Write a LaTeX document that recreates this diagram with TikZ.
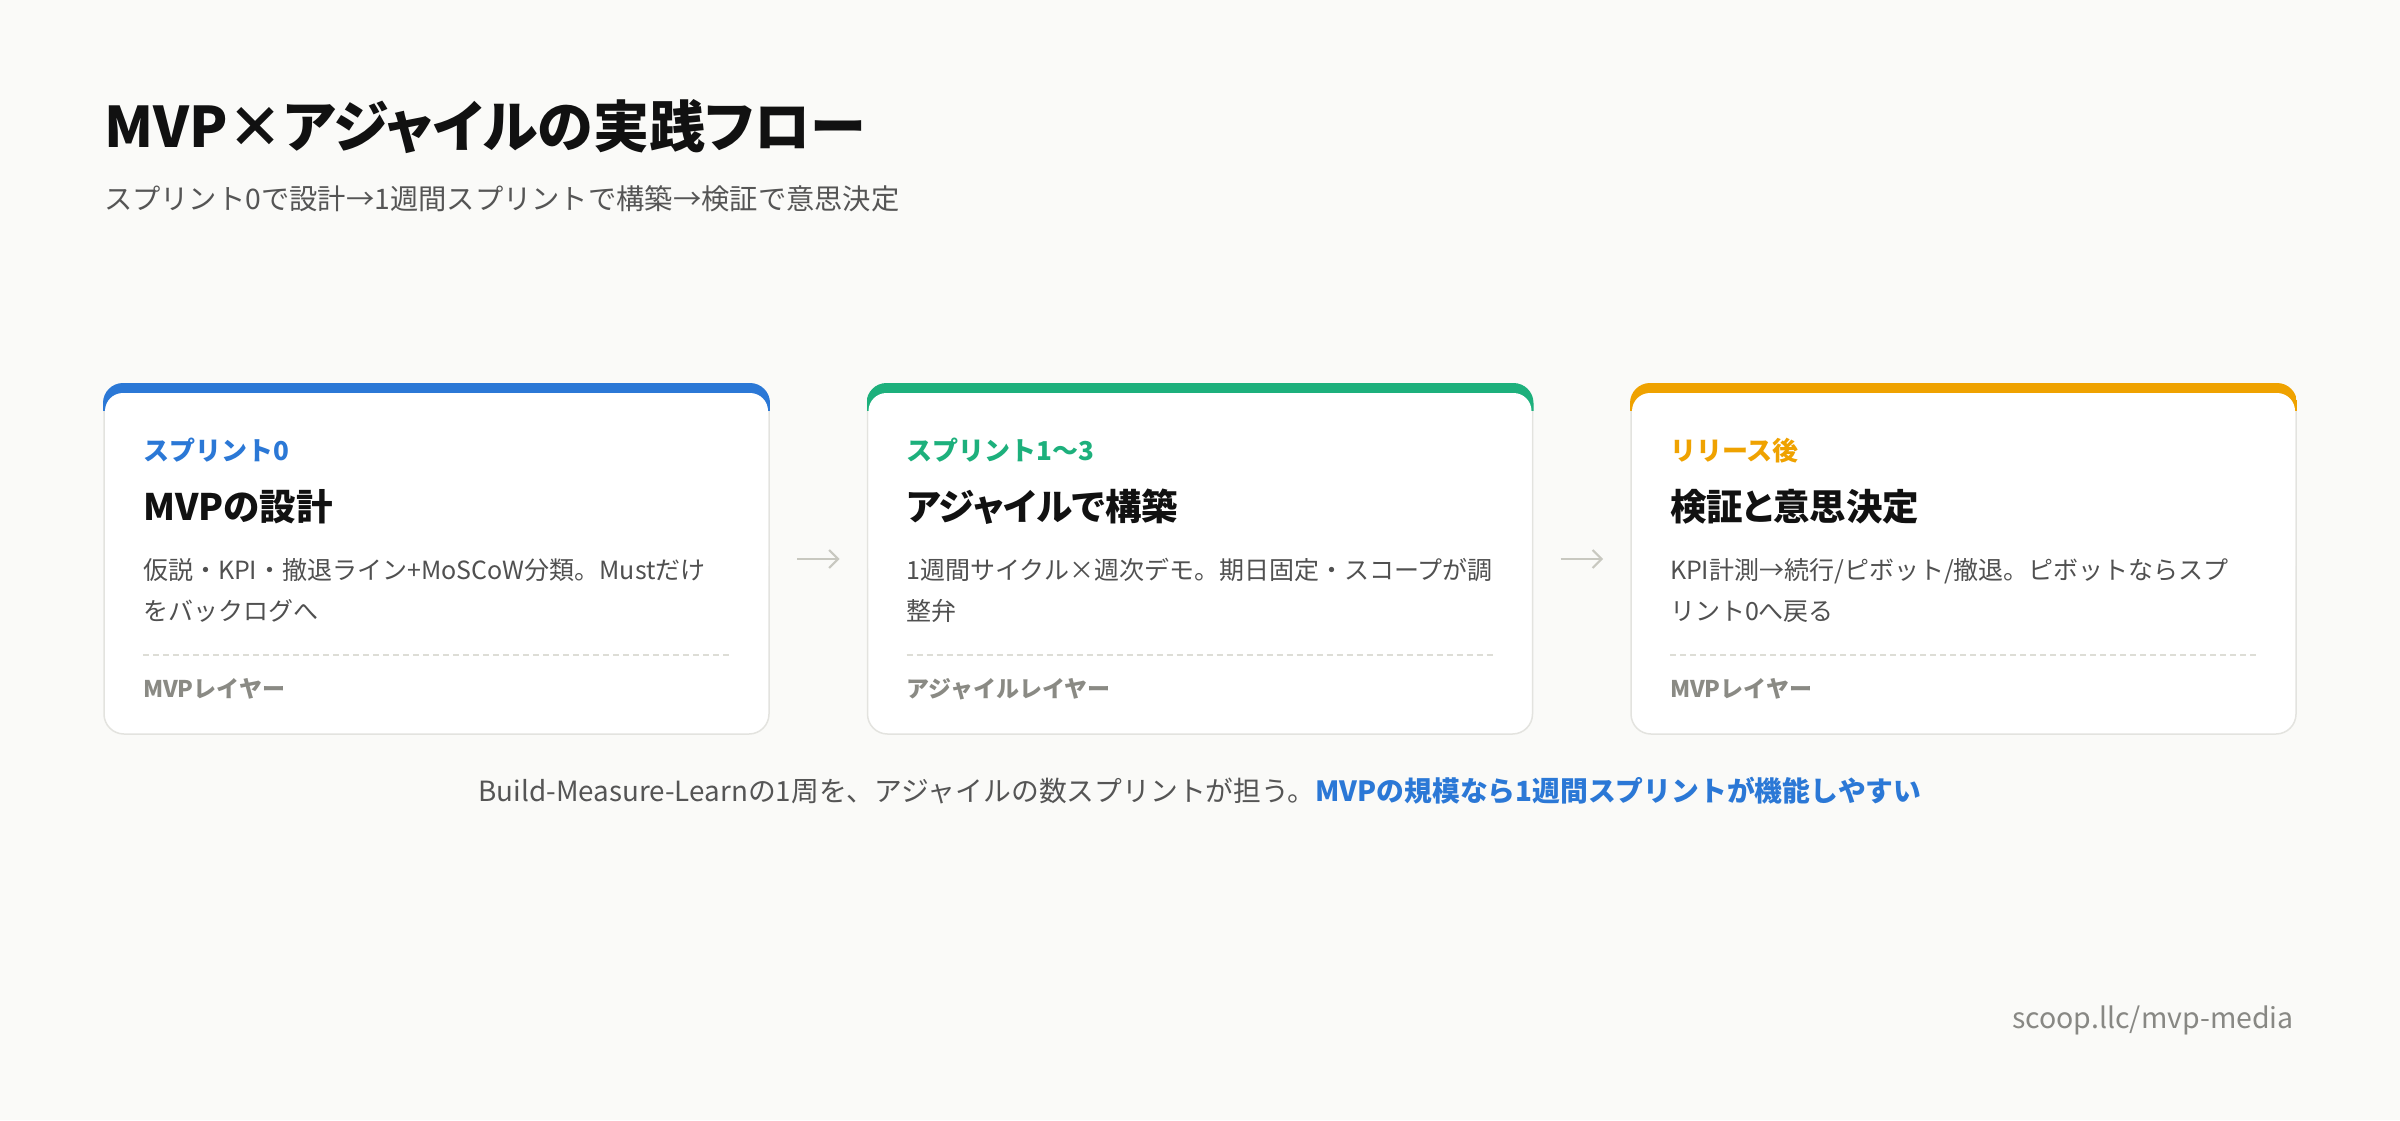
\documentclass[tikz,border=0pt]{standalone}
\usepackage{fontspec}
\setmainfont{Noto Sans CJK JP}
\newfontfamily\headfont[RawFeature={+palt}]{Noto Sans CJK JP}
\usetikzlibrary{arrows.meta}
\definecolor{bg}{HTML}{FAFAF8}
\definecolor{ink}{HTML}{111111}
\definecolor{subgray}{HTML}{555555}
\definecolor{bodygray}{HTML}{505050}
\definecolor{cblue}{HTML}{2B78D6}
\definecolor{cgreen}{HTML}{1DB07C}
\definecolor{corange}{HTML}{EFA200}
\definecolor{cardborder}{HTML}{E3E3DF}
\definecolor{dashgray}{HTML}{DDDDD6}
\definecolor{footgray}{HTML}{8A8A84}
\definecolor{arrowgray}{HTML}{C8C8C0}
\definecolor{urlgray}{HTML}{888884}
\newcommand\cardband[2]{%
  \begin{scope}
    \clip[rounded corners=20pt] ([shift={(-1pt,1pt)}]#1.north west) rectangle ([shift={(1pt,-1pt)}]#1.south east);
    \fill[#2] ([shift={(-1pt,1pt)}]#1.north west) rectangle ([shift={(1pt,-27pt)}]#1.north east);
    \fill[white, rounded corners=18pt] ([shift={(1pt,-9pt)}]#1.north west) rectangle ([shift={(-1pt,-200pt)}]#1.north east);
  \end{scope}}
\begin{document}
\begin{tikzpicture}[x=1pt, y=-1pt,
  txt/.style={inner sep=0pt, outer sep=0pt, anchor=base west},
  card/.style={draw=cardborder, line width=1.5pt, fill=white, rounded corners=20pt,
    minimum width=665pt, minimum height=350pt, inner sep=0pt, outer sep=0pt, anchor=north west},
  maintitle/.style={txt, text=ink, font=\headfont\fontsize{56}{68}\selectfont\bfseries},
  subtitle/.style={txt, text=subgray, font=\fontsize{28.3}{34}\selectfont},
  steplabel/.style={txt, font=\fontsize{26}{32}\selectfont\bfseries},
  cardtitle/.style={txt, text=ink, font=\headfont\fontsize{36.5}{44}\selectfont\bfseries},
  cardbody/.style={txt, text=bodygray, font=\fontsize{25}{41}\selectfont, align=left},
  cardfoot/.style={txt, text=footgray, font=\fontsize{23}{28}\selectfont\bfseries},
  sepline/.style={draw=dashgray, line width=2pt, dash pattern=on 6pt off 4pt},
  flowarrow/.style={draw=arrowgray, line width=2pt, -{Straight Barb[length=9pt,width=18pt]}, shorten <=28pt, shorten >=28pt},
  note/.style={inner sep=0pt, anchor=base, text=subgray, font=\fontsize{27.8}{32}\selectfont},
  url/.style={inner sep=0pt, anchor=base east, text=urlgray, font=\fontsize{28.5}{32}\selectfont}
]
\path[use as bounding box, fill=bg] (0,0) rectangle (2400,1120);

\node[maintitle] (title) at (104,147) {MVP×アジャイルの実践フロー};
\node[subtitle] (subtitle) at (104,209) {スプリント0で設計→1週間スプリントで構築→検証で意思決定};

% cards
\node[card] (c1) at (104,384) {};
\node[card] (c2) at (867.5,384) {};
\node[card] (c3) at (1631,384) {};
\cardband{c1}{cblue}
\cardband{c2}{cgreen}
\cardband{c3}{corange}

% card 1
\node[steplabel, text=cblue] (l1) at (143,460) {スプリント0};
\node[cardtitle] (t1) at (143,520) {MVPの設計};
\node[cardbody] (b1) at (143,620) {仮説・KPI・撤退ライン+MoSCoW分類。Mustだけ\\をバックログへ};
\coordinate (s1a) at (143,655);
\coordinate (s1b) at (731,655);
\draw[sepline] (s1a) -- (s1b);
\node[cardfoot] (f1) at (143,697) {MVPレイヤー};

% card 2
\node[steplabel, text=cgreen] (l2) at (906.5,460) {スプリント1〜3};
\node[cardtitle] (t2) at (906.5,520) {アジャイルで構築};
\node[cardbody] (b2) at (906.5,620) {1週間サイクル×週次デモ。期日固定・スコープが調\\整弁};
\coordinate (s2a) at (906.5,655);
\coordinate (s2b) at (1494.5,655);
\draw[sepline] (s2a) -- (s2b);
\node[cardfoot] (f2) at (906.5,697) {アジャイルレイヤー};

% card 3
\node[steplabel, text=corange] (l3) at (1670,460) {リリース後};
\node[cardtitle] (t3) at (1670,520) {検証と意思決定};
\node[cardbody] (b3) at (1670,620) {KPI計測→続行/ピボット/撤退。ピボットならスプ\\リント0へ戻る};
\coordinate (s3a) at (1670,655);
\coordinate (s3b) at (2258,655);
\draw[sepline] (s3a) -- (s3b);
\node[cardfoot] (f3) at (1670,697) {MVPレイヤー};

% arrows
\draw[flowarrow] (c1.east) -- (c2.west);
\draw[flowarrow] (c2.east) -- (c3.west);

% bottom note
\node[note] (note) at (1200,801) {Build-Measure-Learnの1周を、アジャイルの数スプリントが担う。\textcolor{cblue}{\bfseries MVPの規模なら1週間スプリントが機能しやすい}};

\node[url] (url) at (2294,1028) {scoop.llc/mvp-media};
\end{tikzpicture}
\end{document}
